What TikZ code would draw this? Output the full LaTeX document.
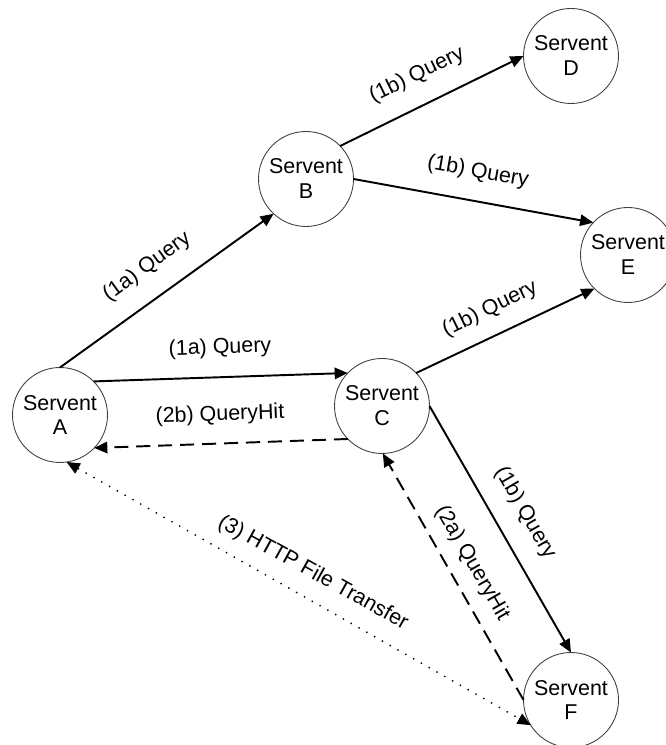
\documentclass[tikz,border=0pt]{standalone}
\usepackage{fontspec}
\setmainfont{Liberation Sans}
\usetikzlibrary{arrows.meta}

\tikzset{
  servent/.style={circle,draw=black!75,line width=0.5pt,minimum size=1.9cm,
    inner sep=0pt,outer sep=0pt,align=center,font=\fontsize{12.2}{14.2}\selectfont},
  msg/.style={font=\fontsize{12.2}{14.2}\selectfont,inner sep=0pt},
  tip/.style={Triangle[length=7.5pt,width=6.5pt]},
  query/.style={-{Triangle[length=7.5pt,width=6.5pt]},line width=1.1pt},
  queryhit/.style={query,dash pattern=on 8pt off 4.5pt},
  transfer/.style={{Triangle[length=7.5pt,width=6.5pt]}-{Triangle[length=7.5pt,width=6.5pt]},
    line width=0.8pt,dash pattern=on 0.8pt off 4.3pt},
}

\begin{document}
\begin{tikzpicture}
    \useasboundingbox (0,0) rectangle (13.3,14.9);
    % peers
    \node[servent] (A) at (1.2,6.6)    {Servent\\A};
    \node[servent] (B) at (6.12,11.32) {Servent\\B};
    \node[servent] (C) at (7.64,6.78)  {Servent\\C};
    \node[servent] (D) at (11.42,13.78) {Servent\\D};
    \node[servent] (E) at (12.56,9.8)  {Servent\\E};
    \node[servent] (F) at (11.42,0.9)  {Servent\\F};

    % query flooding
    \draw[query] (A.90) -- (B.227);
    \draw[query] (A.45) -- (C.136);
    \draw[query] (B.44) -- (D.180);
    \draw[query] (B.0) -- (E.137);
    \draw[query] (C.44) -- (E.225);
    \draw[query] (C.0) -- (F.90);
    % hits back
    \draw[queryhit] (F.180) -- (C.-89);
    \draw[queryhit] (C.224) -- (A.-44);
    % download
    \draw[transfer] (A.-82) -- (F.212);

    \node[msg,rotate=36] (qab) at (2.94,9.56) {(1a) Query};
    \node[msg,rotate=2] (qac) at (4.4,7.94) {(1a) Query};
    \node[msg,rotate=2] (hca) at (4.4,6.6) {(2b) QueryHit};
    \node[msg,rotate=26] (qbd) at (8.34,13.4) {(1b) Query};
    \node[msg,rotate=-10] (qbe) at (9.56,11.46) {(1b) Query};
    \node[msg,rotate=26] (qce) at (9.8,8.72) {(1b) Query};
    \node[msg,rotate=-60] (qcf) at (10.5,4.64) {(1b) Query};
    \node[msg,rotate=-60] (hfc) at (9.44,3.64) {(2a) QueryHit};
    \node[msg,rotate=-29] (http) at (6.26,3.44) {(3) HTTP File Transfer};
\end{tikzpicture}
\end{document}
